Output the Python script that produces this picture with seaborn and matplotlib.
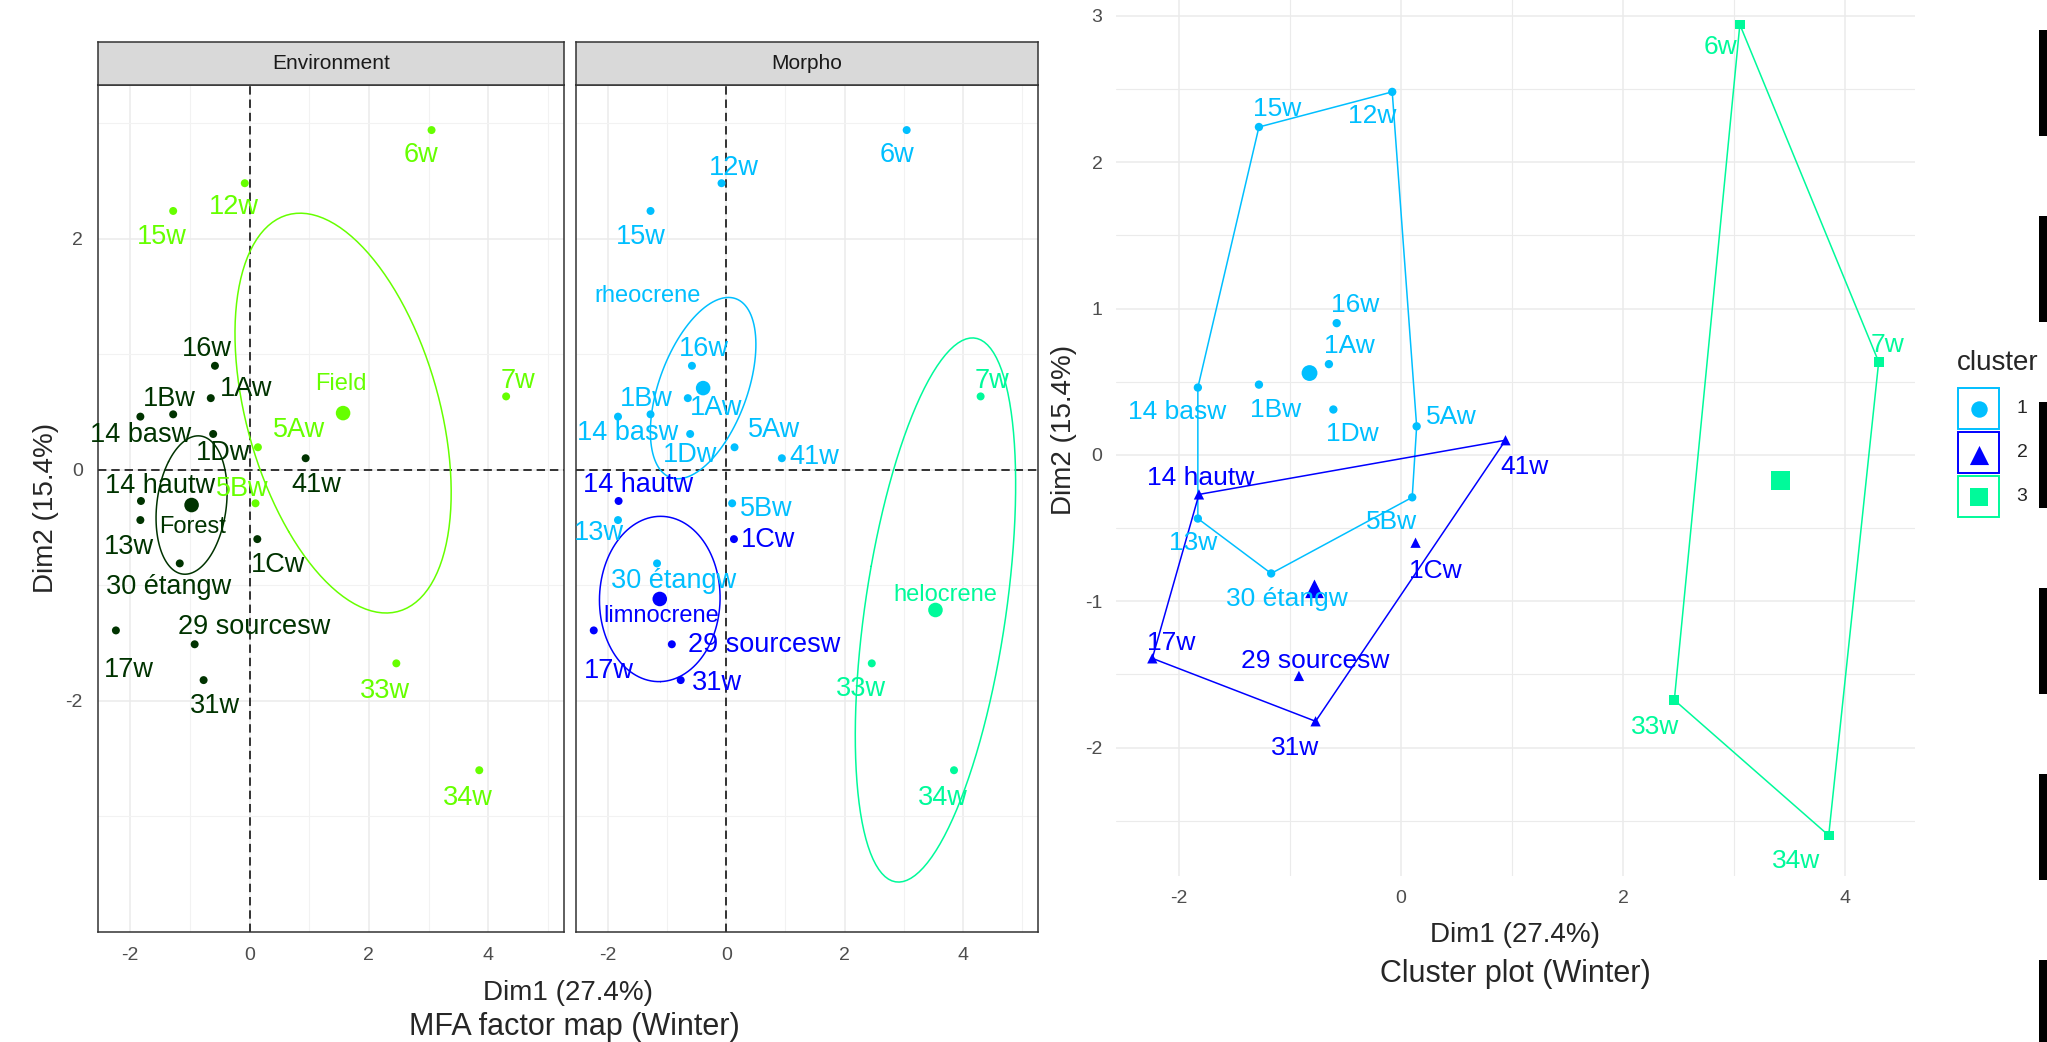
import numpy as np
import pandas as pd
import matplotlib
matplotlib.use("Agg")
import matplotlib.pyplot as plt
import seaborn as sns
from matplotlib.patches import Rectangle

# ---- data ----
names = ["1Aw", "1Bw", "1Cw", "1Dw", "5Aw", "5Bw", "6w", "7w", "12w", "13w", "14 basw",
         "14 hautw", "15w", "16w", "17w", "29 sourcesw", "30 étangw", "31w", "33w", "34w", "41w"]
dim1 = [-0.65, -1.28, 0.13, -0.61, 0.14, 0.10, 3.05, 4.30, -0.08, -1.83, -1.83,
        -1.82, -1.28, -0.58, -2.24, -0.92, -1.17, -0.77, 2.46, 3.85, 0.94]
dim2 = [0.62, 0.48, -0.60, 0.31, 0.195, -0.29, 2.94, 0.635, 2.48, -0.435, 0.46,
        -0.27, 2.24, 0.90, -1.39, -1.51, -0.81, -1.82, -1.675, -2.60, 0.10]
environment = ["Forest", "Forest", "Forest", "Forest", "Field", "Field", "Field", "Field", "Field", "Forest", "Forest",
               "Forest", "Field", "Forest", "Forest", "Forest", "Forest", "Forest", "Field", "Field", "Forest"]
morpho = ["rheocrene", "rheocrene", "limnocrene", "rheocrene", "rheocrene", "rheocrene", "rheocrene", "helocrene",
          "rheocrene", "rheocrene", "rheocrene", "limnocrene", "rheocrene", "rheocrene", "limnocrene", "limnocrene",
          "rheocrene", "limnocrene", "helocrene", "helocrene", "rheocrene"]
cluster = ["1", "1", "2", "1", "1", "1", "3", "3", "1", "1", "1",
           "2", "1", "1", "2", "2", "1", "2", "3", "3", "2"]

env_palette = {"Field": "#66FF00", "Forest": "#003300"}
morpho_palette = {"rheocrene": "#00BFFF", "limnocrene": "#0000FF", "helocrene": "#00FA9A"}
cluster_palette = {"1": "#00BFFF", "2": "#0000FF", "3": "#00FA9A"}
cluster_markers = {"1": "o", "2": "^", "3": "s"}

dim1_label = "Dim1 (27.4%)"
dim2_label = "Dim2 (15.4%)"

# ---- label nudges (pixels: right, down) ----
env_off = {"15w": (-11, 26), "12w": (-11, 24), "6w": (-11, 24.5), "16w": (-8, -16.5), "1Aw": (35.5, -9),
           "1Bw": (-4, -15.5), "14 basw": (0, 18), "1Dw": (10, 19), "5Aw": (41, -17.5), "41w": (11, 27),
           "7w": (12, -15.5), "14 hautw": (19, -15), "5Bw": (-13, -14.5), "13w": (-11.5, 26.5),
           "1Cw": (21, 25.5), "30 étangw": (-11, 24), "17w": (13, 40), "29 sourcesw": (59.5, -17.5),
           "31w": (11.5, 26), "33w": (-11, 28), "34w": (-11.5, 27.5)}
morpho_off = {"12w": (12, -15), "6w": (-10, 24.5), "15w": (-10, 26), "16w": (11.5, -16.5), "1Bw": (-4.5, -15),
              "1Aw": (28.5, 10), "14 basw": (9.6, 16.6), "1Dw": (0, 21), "5Aw": (40, -17.5), "41w": (32.5, -1.7),
              "14 hautw": (19, -16), "5Bw": (34, 6), "13w": (-19, 13), "1Cw": (34, 0.7), "7w": (11, -15.5),
              "30 étangw": (17, 18), "17w": (15, 41), "29 sourcesw": (92, 0.7), "31w": (36.5, 2.7),
              "33w": (-11, 26), "34w": (-11, 27.3)}
cluster_off = {"15w": (18, -18), "12w": (-20, 24.6), "6w": (-19, 22.5), "16w": (18.6, -18.6), "1Aw": (20, -18),
               "1Bw": (17, 25), "14 basw": (-20.5, 24.4), "1Dw": (19, 24), "5Aw": (34.7, -9), "41w": (18.6, 26.4),
               "14 hautw": (2, -16.5), "5Bw": (-20.5, 24.4), "13w": (-5, 24.6), "7w": (9, -17),
               "1Cw": (19.3, 28), "30 étangw": (15.4, 25.6), "17w": (18.6, -15.6), "29 sourcesw": (16.7, -14.5),
               "31w": (-20.6, 26.3), "33w": (-19.3, 27), "34w": (-32.7, 26)}
group_off = {"Field": (-2.6, -29), "Forest": (1, 21.7), "rheocrene": (-56, -92),
             "limnocrene": (1.3, 17.3), "helocrene": (10, -14.7)}

df = pd.DataFrame({"name": names, "dim1": dim1, "dim2": dim2, "environment": environment,
                   "morpho": morpho, "cluster": cluster})

W, H = 2047, 1042
sns.set_style("white")
plt.rcParams["font.family"] = ["Liberation Sans", "DejaVu Sans"]
plt.rcParams["axes.unicode_minus"] = False

fig = plt.figure(figsize=(W / 100, H / 100), dpi=100)


def px_axes(x0, y0, x1, y1):
    return fig.add_axes([x0 / W, 1 - y1 / H, (x1 - x0) / W, (y1 - y0) / H])


def conf_ellipse(px, py, n_pts=120):
    pts = np.column_stack([px, py])
    mu = pts.mean(axis=0)
    cov = np.cov(pts.T) / len(pts)
    vals, vecs = np.linalg.eigh(cov)
    t = np.sqrt(-2 * np.log(0.05))
    th = np.linspace(0, 2 * np.pi, n_pts)
    circ = np.column_stack([np.cos(th), np.sin(th)]) * np.sqrt(vals) * t
    return circ @ vecs.T + mu


def convex_hull(points):
    pts = sorted(set(map(tuple, points)))

    def cross(o, a, b):
        return (a[0] - o[0]) * (b[1] - o[1]) - (a[1] - o[1]) * (b[0] - o[0])
    lower, upper = [], []
    for p in pts:
        while len(lower) >= 2 and cross(lower[-2], lower[-1], p) <= 0:
            lower.pop()
        lower.append(p)
    for p in reversed(pts):
        while len(upper) >= 2 and cross(upper[-2], upper[-1], p) <= 0:
            upper.pop()
        upper.append(p)
    h = lower[:-1] + upper[:-1]
    return np.array(h + [h[0]])


def label_points(ax, data, col, palette, offsets, size=19.5):
    for _, r in data.iterrows():
        dx, dy = offsets.get(r["name"], (0, -16))
        ax.annotate(r["name"], (r["dim1"], r["dim2"]), xytext=(dx, -dy), textcoords="offset pixels",
                    ha="center", va="center", fontsize=size, color=palette[r[col]], zorder=5)


def mfa_panel(ax, col, palette, offsets, show_y):
    ax.set_xlim(-2.54, 5.27)
    ax.set_ylim(-4.0, 3.33)
    ax.set_xticks([-2, 0, 2, 4])
    ax.set_xticks([-1, 1, 3, 5], minor=True)
    ax.set_yticks([-2, 0, 2])
    ax.set_yticks([-3, -1, 1, 3], minor=True)
    ax.grid(which="major", color="#EBEBEB", lw=1.1)
    ax.grid(which="minor", color="#F2F2F2", lw=0.8)
    ax.set_axisbelow(True)
    for s in ax.spines.values():
        s.set_color("#333333")
        s.set_linewidth(1.1)
    ax.tick_params(which="minor", length=0)
    ax.tick_params(which="major", length=5.8, width=1.0, color="#333333", labelsize=14,
                   labelcolor="#4D4D4D", pad=5)
    if not show_y:
        ax.tick_params(axis="y", left=False, labelleft=False)
    ax.axhline(0, color="black", lw=1.1, dashes=(5.5, 3.2), zorder=1)
    ax.axvline(0, color="black", lw=1.1, dashes=(5.5, 3.2), zorder=1)

    sns.scatterplot(data=df, x="dim1", y="dim2", hue=col, palette=palette, s=33, linewidth=0,
                    legend=False, ax=ax, zorder=3)
    centers = df.groupby(col)[["dim1", "dim2"]].mean().reset_index()
    sns.scatterplot(data=centers, x="dim1", y="dim2", hue=col, palette=palette, s=110, linewidth=0,
                    legend=False, ax=ax, zorder=3)
    for g, sub in df.groupby(col):
        ell = conf_ellipse(sub["dim1"].values, sub["dim2"].values)
        ax.plot(ell[:, 0], ell[:, 1], color=palette[g], lw=1.1, zorder=2)
    for _, r in centers.iterrows():
        dx, dy = group_off[r[col]]
        ax.annotate(r[col], (r["dim1"], r["dim2"]), xytext=(dx, -dy), textcoords="offset pixels",
                    ha="center", va="center", fontsize=17, color=palette[r[col]], zorder=5)
    label_points(ax, df, col, palette, offsets)
    ax.set_xlabel("")
    ax.set_ylabel("")


ax_env = px_axes(98, 85, 564, 932)
mfa_panel(ax_env, "environment", env_palette, env_off, True)
ax_mor = px_axes(576, 85, 1038, 932)
mfa_panel(ax_mor, "morpho", morpho_palette, morpho_off, False)

for (x0, x1, title) in [(98, 564, "Environment"), (576, 1038, "Morpho")]:
    sax = px_axes(x0, 42, x1, 85)
    sax.set_facecolor("#D9D9D9")
    sax.set_xticks([])
    sax.set_yticks([])
    for s in sax.spines.values():
        s.set_color("#333333")
        s.set_linewidth(1.1)
    sax.text(0.5, 0.5, title, ha="center", va="center", fontsize=15, color="#1A1A1A",
             transform=sax.transAxes)

# ---- cluster plot ----
ax_cl = px_axes(1116, -16, 1915, 876)
ax_cl.set_xlim(-2.567, 4.627)
ax_cl.set_ylim(-2.877, 3.217)
ax_cl.set_xticks([-2, 0, 2, 4])
ax_cl.set_xticks([-1, 1, 3], minor=True)
ax_cl.set_yticks([-2, -1, 0, 1, 2, 3])
ax_cl.set_yticks([-2.5, -1.5, -0.5, 0.5, 1.5, 2.5], minor=True)
ax_cl.grid(which="major", color="#EBEBEB", lw=1.1)
ax_cl.grid(which="minor", color="#EBEBEB", lw=0.8)
ax_cl.set_axisbelow(True)
for s in ax_cl.spines.values():
    s.set_visible(False)
ax_cl.tick_params(which="minor", length=0)
ax_cl.tick_params(which="major", length=5.8, width=1.0, color="#333333", labelsize=14,
                  labelcolor="#4D4D4D", pad=4)

for c, sub in df.groupby("cluster"):
    h = convex_hull(sub[["dim1", "dim2"]].values)
    ax_cl.plot(h[:, 0], h[:, 1], color=cluster_palette[c], lw=1.1, zorder=2)

sns.scatterplot(data=df, x="dim1", y="dim2", hue="cluster", style="cluster", markers=cluster_markers,
                size="cluster", sizes={"1": 36, "2": 55, "3": 50}, palette=cluster_palette,
                linewidth=0, legend=False, ax=ax_cl, zorder=3)
cl_centers = df.groupby("cluster")[["dim1", "dim2"]].mean().reset_index()
sns.scatterplot(data=cl_centers, x="dim1", y="dim2", hue="cluster", style="cluster", markers=cluster_markers,
                size="cluster", sizes={"1": 130, "2": 180, "3": 185}, palette=cluster_palette,
                linewidth=0, legend=False, ax=ax_cl, zorder=3)
label_points(ax_cl, df, "cluster", cluster_palette, cluster_off, size=19)
ax_cl.set_xlabel("")
ax_cl.set_ylabel("")

# ---- overlay: titles, legend, edge bars ----
ov = fig.add_axes([0, 0, 1, 1])
ov.set_xlim(0, W)
ov.set_ylim(H, 0)
ov.axis("off")
ov.patch.set_alpha(0)

ov.text(46, 508, dim2_label, rotation=90, ha="center", va="center", fontsize=20)
ov.text(568, 993, dim1_label, ha="center", va="center", fontsize=20)
ov.text(574, 1027, "MFA factor map (Winter)", ha="center", va="center", fontsize=22)
ov.text(1064, 430, dim2_label, rotation=90, ha="center", va="center", fontsize=20)
ov.text(1515, 935, dim1_label, ha="center", va="center", fontsize=20)
ov.text(1515, 974, "Cluster plot (Winter)", ha="center", va="center", fontsize=22)

ov.text(1957, 363, "cluster", ha="left", va="center", fontsize=20)
leg_sizes = {"1": 140, "2": 190, "3": 170}
for i, c in enumerate(["1", "2", "3"]):
    y0 = 388 + i * 44
    ov.add_patch(Rectangle((1958, y0), 41, 41, facecolor="white", edgecolor=cluster_palette[c], lw=1.4))
    ov.scatter([1978.5], [y0 + 20.5 + (2 if c == "2" else 0)], marker=cluster_markers[c], s=leg_sizes[c],
               color=cluster_palette[c], linewidths=0)
    ov.text(2022, y0 + 20.5, c, ha="center", va="center", fontsize=14)

for k in range(6):
    ov.add_patch(Rectangle((2039, 30 + k * 186), 9, 106, facecolor="black", edgecolor="none"))

fig.savefig("out.png", dpi=100)
